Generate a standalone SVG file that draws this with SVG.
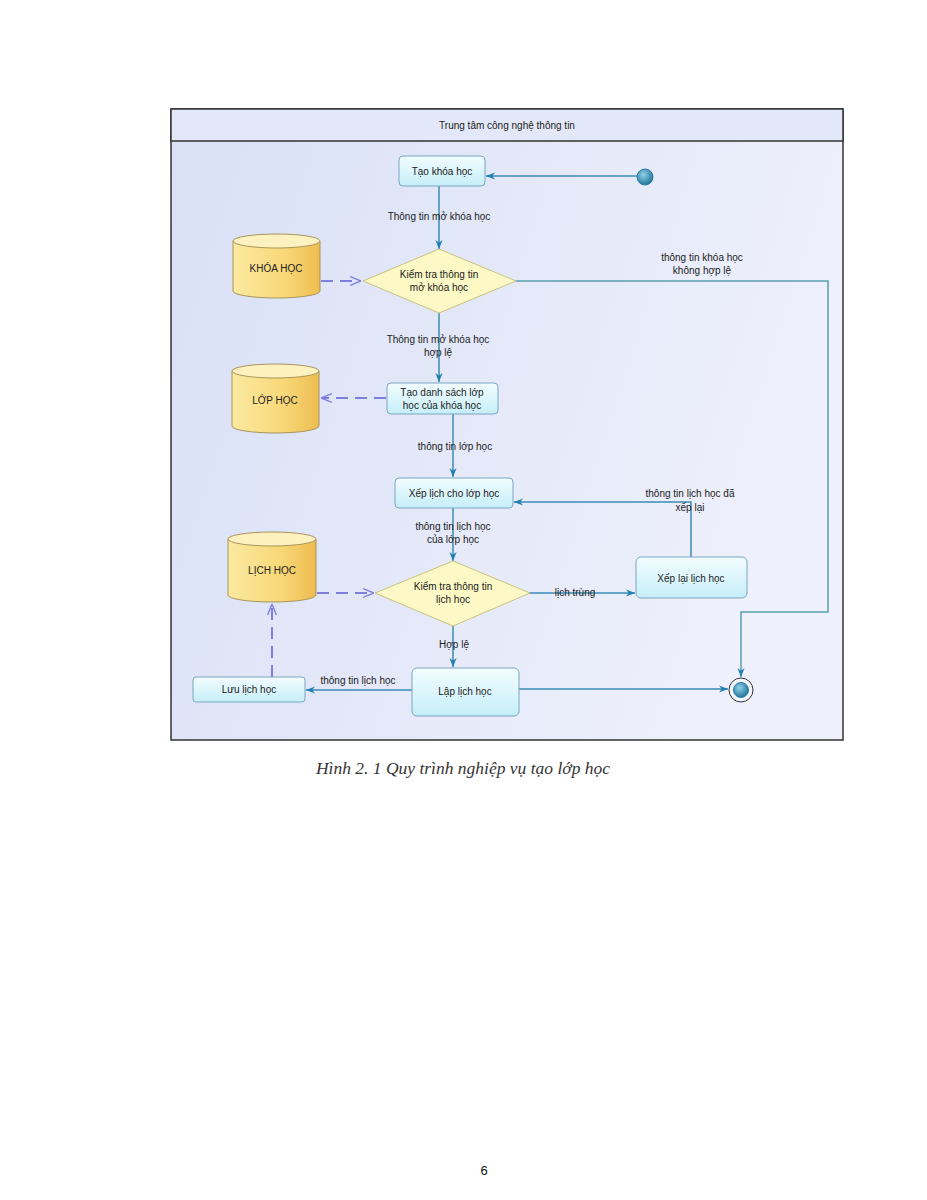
<svg xmlns="http://www.w3.org/2000/svg" width="927" height="1200" viewBox="0 0 927 1200">
<defs>
<linearGradient id="bg" x1="0" y1="0" x2="1" y2="0.3">
<stop offset="0" stop-color="#d9e0f6"/><stop offset="1" stop-color="#eef0fb"/>
</linearGradient>
<linearGradient id="act" x1="0" y1="0" x2="0" y2="1">
<stop offset="0" stop-color="#f2fdff"/><stop offset="1" stop-color="#c6eef8"/>
</linearGradient>
<linearGradient id="cyl" x1="0" y1="0" x2="1" y2="0">
<stop offset="0" stop-color="#fbe9a0"/><stop offset="0.6" stop-color="#f8d878"/><stop offset="1" stop-color="#eebc50"/>
</linearGradient>
<radialGradient id="dot" cx="0.4" cy="0.35" r="0.7">
<stop offset="0" stop-color="#8fd0e8"/><stop offset="1" stop-color="#1d6f95"/>
</radialGradient>
<marker id="ah" viewBox="0 0 10 10" refX="10" refY="5" markerWidth="12" markerHeight="9" orient="auto" markerUnits="userSpaceOnUse">
<path d="M0,1 L10,5 L0,9 L3,5 Z" fill="#1f7fb2"/>
</marker>
<marker id="oh" viewBox="0 0 10 10" refX="10" refY="5" markerWidth="11" markerHeight="11" orient="auto" markerUnits="userSpaceOnUse">
<path d="M0,1 L10,5 L0,9" fill="none" stroke="#8080e0" stroke-width="1.3"/>
</marker>
</defs>
<style>
text{font-family:"Liberation Sans",Arial,sans-serif;font-size:10px;fill:#222;}
.t{text-anchor:middle;}
.act{fill:url(#act);stroke:#7aa6c0;stroke-width:1;}
.dia{fill:#fcf9c6;stroke:#c9c27e;stroke-width:1;}
.cyl{fill:url(#cyl);stroke:#a8955a;stroke-width:1;}
.cyltop{fill:#fdf2bf;stroke:#a8955a;stroke-width:1;}
.flow{fill:none;stroke:#3a8db4;stroke-width:1.5;}
.flow2{fill:none;stroke:#5a9fae;stroke-width:1.5;}
.dash{fill:none;stroke:#7f7fe0;stroke-width:2;stroke-dasharray:12,7;}
</style>
<rect width="927" height="1200" fill="#ffffff"/>
<g id="frame">
<rect x="171" y="109" width="672" height="631" fill="url(#bg)" stroke="#333" stroke-width="1.5"/>
<rect x="171" y="109" width="672" height="32" fill="#e3e8f8" stroke="#333" stroke-width="1.5"/>
<text class="t" x="507" y="129">Trung tâm công nghệ thông tin</text>
</g>
<g id="connectors">
<line class="flow" x1="637" y1="176" x2="486" y2="176" marker-end="url(#ah)"/>
<line class="flow" x1="439" y1="186" x2="439" y2="249" marker-end="url(#ah)"/>
<line class="flow" x1="439" y1="313" x2="439" y2="382" marker-end="url(#ah)"/>
<polyline class="flow2" points="516,281 828,281 828,612 741,612 741,677" marker-end="url(#ah)"/>
<line class="flow" x1="453" y1="414" x2="453" y2="477" marker-end="url(#ah)"/>
<line class="flow" x1="453" y1="508" x2="453" y2="561" marker-end="url(#ah)"/>
<line class="flow" x1="529" y1="593" x2="635" y2="593" marker-end="url(#ah)"/>
<polyline class="flow" points="691,557 691,502 514,502" marker-end="url(#ah)"/>
<line class="flow" x1="453" y1="626" x2="453" y2="667" marker-end="url(#ah)"/>
<line class="flow" x1="412" y1="690" x2="306" y2="690" marker-end="url(#ah)"/>
<line class="flow" x1="519" y1="689" x2="728" y2="689" marker-end="url(#ah)"/>
<line class="dash" x1="321" y1="281" x2="361" y2="281" marker-end="url(#oh)"/>
<line class="dash" x1="386" y1="398" x2="321" y2="398" marker-end="url(#oh)"/>
<line class="dash" x1="317" y1="593" x2="374" y2="593" marker-end="url(#oh)"/>
<line class="dash" x1="272" y1="677" x2="272" y2="604" marker-end="url(#oh)"/>
<text class="t" x="439" y="220">Thông tin mở khóa học</text>
<text class="t" x="702" y="261">thông tin khóa học</text>
<text class="t" x="702" y="274">không hợp lệ</text>
<text class="t" x="438" y="343">Thông tin mở khóa học</text>
<text class="t" x="438" y="356">hợp lệ</text>
<text class="t" x="455" y="450">thông tin lớp học</text>
<text class="t" x="453" y="530">thông tin lịch học</text>
<text class="t" x="453" y="543">của lớp học</text>
<text class="t" x="690" y="497">thông tin lịch học đã</text>
<text class="t" x="690" y="511">xếp lại</text>
<text class="t" x="575" y="596">lịch trùng</text>
<text class="t" x="454" y="648">Hợp lệ</text>
<text class="t" x="358" y="684">thông tin lịch học</text>
</g>
<g id="start"><circle cx="645" cy="177" r="8" fill="url(#dot)" stroke="#2a7ea6" stroke-width="1"/></g>
<g id="end">
<circle cx="741" cy="690" r="12" fill="#f4f6fc" stroke="#333" stroke-width="1"/>
<circle cx="741" cy="690" r="7.5" fill="url(#dot)" stroke="#2a7ea6" stroke-width="1"/>
</g>
<g id="tao-khoa-hoc">
<rect class="act" x="399" y="156" width="86" height="30" rx="4"/>
<text class="t" x="442" y="175">Tạo khóa học</text>
</g>
<g id="kiem-tra-khoa-hoc">
<polygon class="dia" points="439,249 516,281 439,313 363,281"/>
<text class="t" x="439" y="278">Kiểm tra thông tin</text>
<text class="t" x="439" y="291">mở khóa học</text>
</g>
<g id="khoa-hoc-db">
<path class="cyl" d="M233,241 L233,291 A43.5,7 0 0 0 320,291 L320,241"/>
<ellipse class="cyltop" cx="276.5" cy="241" rx="43.5" ry="7"/>
<text class="t" x="276" y="272">KHÓA HỌC</text>
</g>
<g id="tao-danh-sach">
<rect class="act" x="387" y="383" width="111" height="31" rx="4"/>
<text class="t" x="442" y="396">Tạo danh sách lớp</text>
<text class="t" x="442" y="409">học của khóa học</text>
</g>
<g id="lop-hoc-db">
<path class="cyl" d="M232,371 L232,426 A43.5,7 0 0 0 319,426 L319,371"/>
<ellipse class="cyltop" cx="275.5" cy="371" rx="43.5" ry="7"/>
<text class="t" x="275" y="404">LỚP HỌC</text>
</g>
<g id="xep-lich">
<rect class="act" x="395" y="478" width="118" height="30" rx="4"/>
<text class="t" x="454" y="497">Xếp lịch cho lớp học</text>
</g>
<g id="kiem-tra-lich">
<polygon class="dia" points="453,561 530,593 453,626 375,593"/>
<text class="t" x="453" y="590">Kiểm tra thông tin</text>
<text class="t" x="453" y="603">lịch học</text>
</g>
<g id="lich-hoc-db">
<path class="cyl" d="M228,539 L228,595 A44,7 0 0 0 316,595 L316,539"/>
<ellipse class="cyltop" cx="272" cy="539" rx="44" ry="7"/>
<text class="t" x="272" y="574">LỊCH HỌC</text>
</g>
<g id="xep-lai-lich">
<rect class="act" x="636" y="557" width="111" height="41" rx="5"/>
<text class="t" x="691" y="582">Xếp lại lịch học</text>
</g>
<g id="lap-lich">
<rect class="act" x="412" y="668" width="107" height="48" rx="5"/>
<text class="t" x="465" y="695">Lập lịch học</text>
</g>
<g id="luu-lich">
<rect class="act" x="193" y="677" width="112" height="25" rx="3"/>
<text class="t" x="249" y="693">Lưu lịch học</text>
</g>
<text x="463" y="774" text-anchor="middle" style="font-family:'Liberation Serif','Times New Roman',serif;font-style:italic;font-size:17.5px;fill:#333;">Hình 2. 1 Quy trình nghiệp vụ tạo lớp học</text>
<text x="484" y="1175" text-anchor="middle" style="font-family:'Liberation Sans',Arial,sans-serif;font-size:13px;fill:#111;">6</text>
</svg>
